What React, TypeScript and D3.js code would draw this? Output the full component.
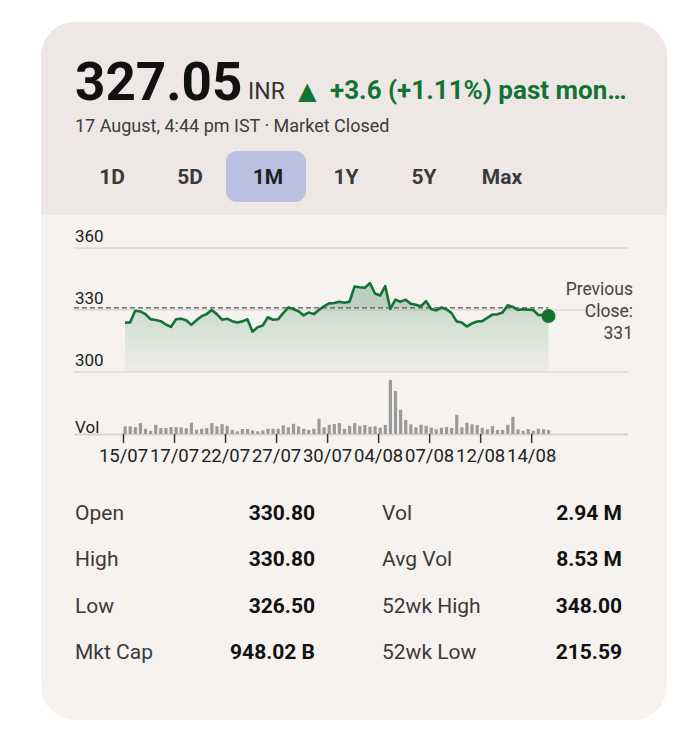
import React from "react";
import * as d3 from "d3";

const prices: number[] = [
  323.9, 324.0, 329.6, 329.3, 328.0, 325.6, 325.2, 324.6, 323.0, 321.8,
  325.5, 325.8, 325.0, 322.8, 325.0, 327.0, 328.0, 330.0, 328.0, 325.3,
  325.8, 324.6, 324.0, 324.5, 325.5, 319.5, 321.7, 322.5, 326.5, 325.3,
  325.5, 328.5, 331.2, 330.5, 329.4, 327.4, 328.8, 328.0, 330.0, 331.8,
  333.2, 333.4, 334.0, 333.5, 334.0, 341.4, 341.0, 340.8, 343.0, 338.0,
  337.0, 341.5, 330.5, 335.0, 334.0, 335.0, 333.0, 332.5, 331.8, 334.3,
  330.5, 329.8, 331.2, 330.4, 328.5, 324.5, 324.0, 322.0, 323.5, 324.4,
  324.6, 326.2, 327.8, 327.9, 328.8, 332.3, 331.5, 330.0, 330.4, 330.2,
  330.0, 327.6, 327.5, 327.05,
];

const volumes: number[] = [
  5.7, 5.7, 5.0, 8.1, 3.9, 2.4, 6.9, 4.4, 4.4, 5.2,
  5.2, 5.0, 4.2, 8.4, 3.2, 3.9, 4.4, 8.1, 5.7, 7.4,
  6.1, 3.0, 2.0, 3.7, 3.7, 2.7, 2.0, 2.7, 3.9, 3.9,
  3.9, 6.4, 5.0, 7.6, 5.7, 3.9, 3.0, 3.9, 11.3, 5.0,
  6.9, 7.4, 8.1, 3.9, 6.1, 8.1, 6.1, 6.7, 5.4, 5.7,
  4.7, 6.7, 40.2, 32.0, 18.0, 10.4, 7.2, 5.0, 6.9, 6.1,
  4.7, 3.5, 4.7, 5.2, 4.4, 14.3, 5.0, 8.4, 7.2, 6.7,
  4.7, 3.5, 5.9, 3.0, 3.0, 6.9, 12.8, 3.5, 2.4, 3.7,
  2.4, 3.9, 3.5, 3.0,
];

const tickIndices: number[] = [0, 10, 20, 30, 40, 50, 60, 70, 80];
const tickLabels: string[] = ["15/07", "17/07", "22/07", "27/07", "30/07", "04/08", "07/08", "12/08", "14/08"];
const yTicks: number[] = [300, 330, 360];
const previousClose = 331;

const tabs: string[] = ["1D", "5D", "1M", "1Y", "5Y", "Max"];
const activeTab = "1M";

const statsLeftLabels: string[] = ["Open", "High", "Low", "Mkt Cap"];
const statsLeftValues: string[] = ["330.80", "330.80", "326.50", "948.02 B"];
const statsRightLabels: string[] = ["Vol", "Avg Vol", "52wk High", "52wk Low"];
const statsRightValues: string[] = ["2.94 M", "8.53 M", "348.00", "215.59"];

const GREEN = "#137333";
const FONT = "Roboto, 'Noto Sans', sans-serif";

export default function App() {
  const W = 700;
  const H = 742;

  const x = d3.scaleLinear().domain([0, prices.length - 1]).range([125, 548.5]);
  const y = d3.scaleLinear().domain([300, 360]).range([372, 248]);
  const yVol = d3.scaleLinear().domain([0, d3.max(volumes) as number]).range([434, 380]);

  const line = d3
    .line<number>()
    .x((_, i) => x(i))
    .y((d) => y(d))
    .curve(d3.curveLinear);
  const area = d3
    .area<number>()
    .x((_, i) => x(i))
    .y0(y(300))
    .y1((d) => y(d));
  const aboveArea = d3
    .area<number>()
    .x((_, i) => x(i))
    .y0(y(previousClose))
    .y1((d) => y(Math.max(d, previousClose)));

  const tabX = d3.scalePoint<string>().domain(tabs).range([112, 502]);

  const rowY = d3.scalePoint<string>().domain(statsLeftLabels).range([520, 659]);

  const last = prices.length - 1;

  return (
    <svg
      width={W}
      height={H}
      style={{ position: "absolute", left: 0, top: 0, fontFamily: FONT }}
    >
      <defs>
        <clipPath id="cardClip">
          <rect x={41} y={22} width={626} height={698} rx={34} ry={34} />
        </clipPath>
        <linearGradient id="areaGrad" gradientUnits="userSpaceOnUse" x1="0" y1={y(335)} x2="0" y2={y(300)}>
          <stop offset="0%" stopColor={GREEN} stopOpacity={0.2} />
          <stop offset="100%" stopColor={GREEN} stopOpacity={0.03} />
        </linearGradient>
      </defs>
      <rect x={0} y={0} width={W} height={H} fill="#ffffff" />
      <g clipPath="url(#cardClip)">
        <rect x={41} y={22} width={626} height={698} fill="#f5f2ef" />
        <rect x={41} y={22} width={626} height={193} fill="#ede8e6" />
      </g>

      {/* Header */}
      <text x={75} y={100} fontSize={53} fontWeight={700} fill="#111">
        327.05
      </text>
      <text x={248} y={99} fontSize={23} fill="#333">
        INR
      </text>
      <text x={298} y={99} fontSize={24} fill={GREEN} fontFamily="'DejaVu Sans', sans-serif">
        ▲
      </text>
      <text x={330} y={99} fontSize={26} fontWeight={700} fill={GREEN}>
        +3.6 (+1.11%) past mon…
      </text>
      <text x={75} y={132} fontSize={18} fill="#3c3c3c">
        17 August, 4:44 pm IST · Market Closed
      </text>

      {/* Tabs */}
      <rect x={226} y={151} width={80} height={51} rx={11} fill="#b9bfe0" />
      {tabs.map((t) => (
        <text
          key={t}
          x={tabX(t)}
          y={184}
          textAnchor="middle"
          fontSize={21}
          fontWeight={700}
          fill={t === activeTab ? "#1f1f1f" : "#3a3a3a"}
        >
          {t}
        </text>
      ))}

      {/* Price gridlines */}
      {yTicks.map((t) => (
        <g key={t}>
          <line x1={74} x2={628} y1={y(t)} y2={y(t)} stroke="#dcdad7" strokeWidth={1.5} />
          <text x={75} y={y(t) - 6} fontSize={17} fill="#222">
            {t}
          </text>
        </g>
      ))}

      {/* Area + line */}
      <path d={area(prices) || ""} fill="url(#areaGrad)" />
      <path d={aboveArea(prices) || ""} fill="#8a8d86" fillOpacity={0.14} />
      <line
        x1={74}
        x2={x(last)}
        y1={y(previousClose)}
        y2={y(previousClose)}
        stroke="#555"
        strokeWidth={1.3}
        strokeDasharray="5,3"
      />
      <path d={line(prices) || ""} fill="none" stroke={GREEN} strokeWidth={2.6} strokeLinejoin="round" />
      <circle cx={x(last)} cy={y(prices[last])} r={7} fill={GREEN} />

      {/* Previous close label */}
      <text x={633} y={295} textAnchor="end" fontSize={17.5} fill="#444">
        Previous
      </text>
      <text x={633} y={317} textAnchor="end" fontSize={17.5} fill="#444">
        Close:
      </text>
      <text x={633} y={339} textAnchor="end" fontSize={17.5} fill="#444">
        {previousClose}
      </text>

      {/* Volume */}
      <line x1={74} x2={628} y1={yVol(0) + 0.5} y2={yVol(0) + 0.5} stroke="#d6d4d1" strokeWidth={2} />
      <text x={75} y={433} fontSize={17} fill="#222">
        Vol
      </text>
      {volumes.map((v, i) => (
        <rect
          key={i}
          x={x(i) - 1.5}
          y={yVol(v)}
          width={3.2}
          height={yVol(0) - yVol(v)}
          fill="#9a9a9a"
        />
      ))}

      {/* X axis ticks */}
      {tickIndices.map((ti, k) => (
        <g key={ti}>
          <line x1={x(ti) - 1.5} x2={x(ti) - 1.5} y1={434} y2={443} stroke="#333" strokeWidth={1.5} />
          <text x={x(ti) - 1.5} y={462} textAnchor="middle" fontSize={18.5} fill="#222">
            {tickLabels[k]}
          </text>
        </g>
      ))}

      {/* Stats */}
      {statsLeftLabels.map((lab, k) => (
        <g key={lab}>
          <text x={75} y={rowY(lab)} fontSize={21} fill="#3a3a3a">
            {lab}
          </text>
          <text x={315} y={rowY(lab)} textAnchor="end" fontSize={21} fontWeight={700} fill="#111">
            {statsLeftValues[k]}
          </text>
          <text x={382} y={rowY(lab)} fontSize={21} fill="#3a3a3a">
            {statsRightLabels[k]}
          </text>
          <text x={622} y={rowY(lab)} textAnchor="end" fontSize={21} fontWeight={700} fill="#111">
            {statsRightValues[k]}
          </text>
        </g>
      ))}
    </svg>
  );
}
